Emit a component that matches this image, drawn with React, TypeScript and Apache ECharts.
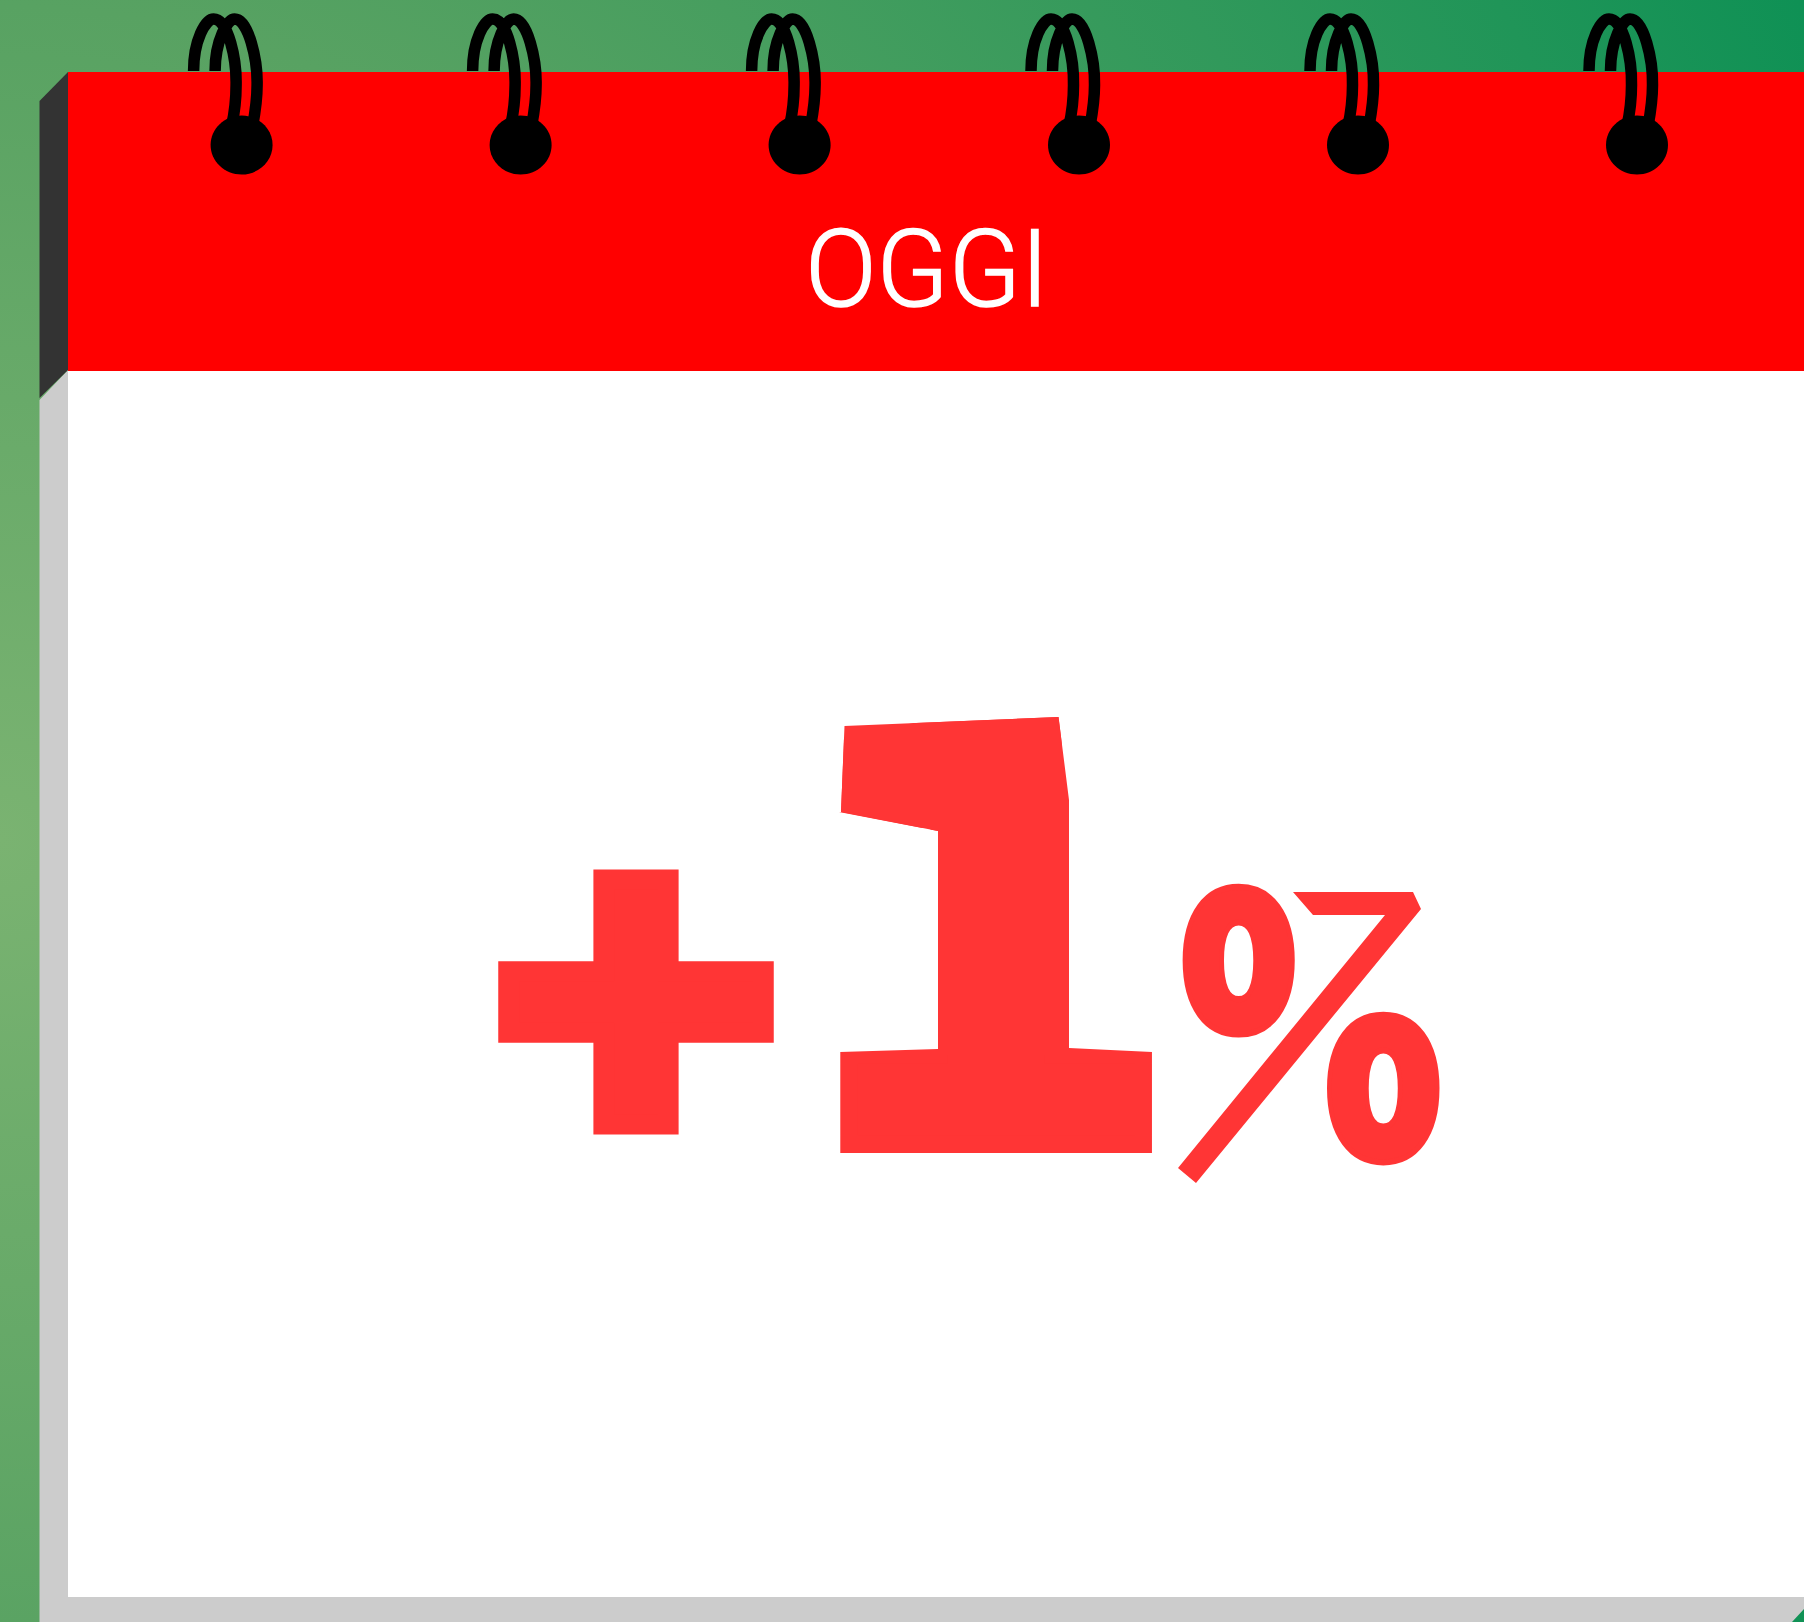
import React, { useEffect, useRef } from "react";
import * as echarts from "echarts";

const WIDTH = 1804;
const HEIGHT = 1622;
const headerLabel = "OGGI";
const signLabel = "+";
const numberLabel = "1";
const unitLabel = "%";
const ringCentres = [241.6, 520.6, 799.6, 1079, 1358, 1637];
const RED = "#ff3535";

echarts.graphic.registerShape(
  "ringArches",
  echarts.graphic.extendPath(
    "M-48 71 C-48 40 -36 19 -28 19 C-13 19 -5 60 -5.5 85 C-5.5 100 -6.5 110 -10 126 " +
      "M-26.5 71 C-26.5 40 -14 19 -7 19 C7 19 16 60 15.5 85 C15.5 100 14 110 11 126",
    {}
  )
);

function App() {
  const ref = useRef<HTMLDivElement>(null);
  useEffect(() => {
    document.body.style.margin = "0";
    const chart = echarts.init(ref.current!, null, { renderer: "svg" });
    const rings: any[] = [];
    ringCentres.forEach((x) => {
      rings.push({
        type: "ringArches",
        x,
        y: 0,
        style: { stroke: "#000", fill: "none", lineWidth: 11.5 },
      });
      rings.push({
        type: "ellipse",
        shape: { cx: x, cy: 145, rx: 31, ry: 29.5 },
        style: { fill: "#000" },
      });
    });
    chart.setOption({
      animation: false,
      graphic: [
        {
          type: "rect",
          shape: { x: 0, y: 0, width: WIDTH, height: HEIGHT },
          style: {
            fill: new echarts.graphic.RadialGradient(
              0,
              840,
              1985,
              [
                { offset: 0, color: "#7ab371" },
                { offset: 0.42, color: "#58a262" },
                { offset: 1, color: "#0f9155" },
              ],
              true
            ),
          },
        },
        { type: "polygon", shape: { points: [[39.5, 400], [68, 370], [68, 1597], [1804, 1597], [1804, 1609], [1792, 1622], [39.5, 1622]] }, style: { fill: "#cccccc" } },
        { type: "polygon", shape: { points: [[39.5, 101], [68, 72], [68, 370], [39.5, 398]] }, style: { fill: "#333333" } },
        { type: "rect", shape: { x: 68, y: 72, width: 1736, height: 299 }, style: { fill: "#ff0000" } },
        { type: "rect", shape: { x: 68, y: 371, width: 1736, height: 1226 }, style: { fill: "#ffffff" } },
        ...rings,
        {
          type: "text",
          x: 927,
          y: 269.5,
          scaleX: 0.985,
          style: {
            text: headerLabel,
            fill: "#fff",
            stroke: "#fff",
            lineWidth: 1.5,
            font: "300 107px Roboto",
            textAlign: "center",
            textVerticalAlign: "middle",
          },
        },
        {
          type: "text",
          x: 636,
          y: 990,
          scaleX: 1.02,
          scaleY: 0.98,
          style: { text: signLabel, fill: RED, stroke: RED, lineWidth: 41, lineJoin: "miter", miterLimit: 10, font: "bold 366px 'DejaVu Sans'", textAlign: "center", textVerticalAlign: "middle" },
        },
        {
          type: "text",
          x: 983,
          y: 945,
          scaleX: 0.92,
          scaleY: 0.933,
          style: { text: numberLabel, fill: RED, stroke: RED, lineWidth: 38, lineJoin: "miter", miterLimit: 10, font: "bold 590px 'DejaVu Sans'", textAlign: "center", textVerticalAlign: "middle" },
        },
        // the reference's "1" has a squarer flag and a chamfered top: trim and redraw that part of the glyph
        { type: "polygon", shape: { points: [[800, 804.5], [938, 831], [938, 1049], [840, 1052], [800, 1052]] }, style: { fill: "#fff" } },
        { type: "polygon", shape: { points: [[830, 726.6], [1058.5, 717], [1069, 800], [1090, 800], [1090, 690], [830, 690]] }, style: { fill: "#fff" } },
        { type: "polygon", shape: { points: [[830, 700], [844.5, 726], [841, 812], [830, 812]] }, style: { fill: "#fff" } },
        { type: "polygon", shape: { points: [[1069, 1048], [1152, 1052], [1170, 1052], [1170, 1000], [1069, 1000]] }, style: { fill: "#fff" } },
        {
          type: "polygon",
          shape: { points: [[844.5, 726], [1058.5, 717], [1069, 800], [1069, 1055], [938, 1055], [938, 831], [841, 812]] },
          style: { fill: RED },
        },
        {
          type: "text",
          x: 1311,
          y: 1031,
          scaleX: 0.66,
          scaleY: 0.89,
          style: { text: unitLabel, fill: RED, stroke: RED, lineWidth: 14, font: "bold 400px 'DejaVu Sans'", textAlign: "center", textVerticalAlign: "middle" },
        },
        // the reference's "%" has a long bar-topped slash in place of the font's own
        { type: "polygon", shape: { points: [[1222, 1175], [1282, 1175], [1404, 868], [1345, 868]] }, style: { fill: "#fff" } },
        {
          type: "polygon",
          shape: { points: [[1178, 1168], [1196, 1183], [1421, 909], [1413, 892], [1293, 892], [1313, 915], [1385, 915]] },
          style: { fill: RED },
        },
      ],
    });
    return () => chart.dispose();
  }, []);
  return <div ref={ref} style={{ position: "absolute", left: 0, top: 0, width: WIDTH, height: HEIGHT }} />;
}

export default App;
